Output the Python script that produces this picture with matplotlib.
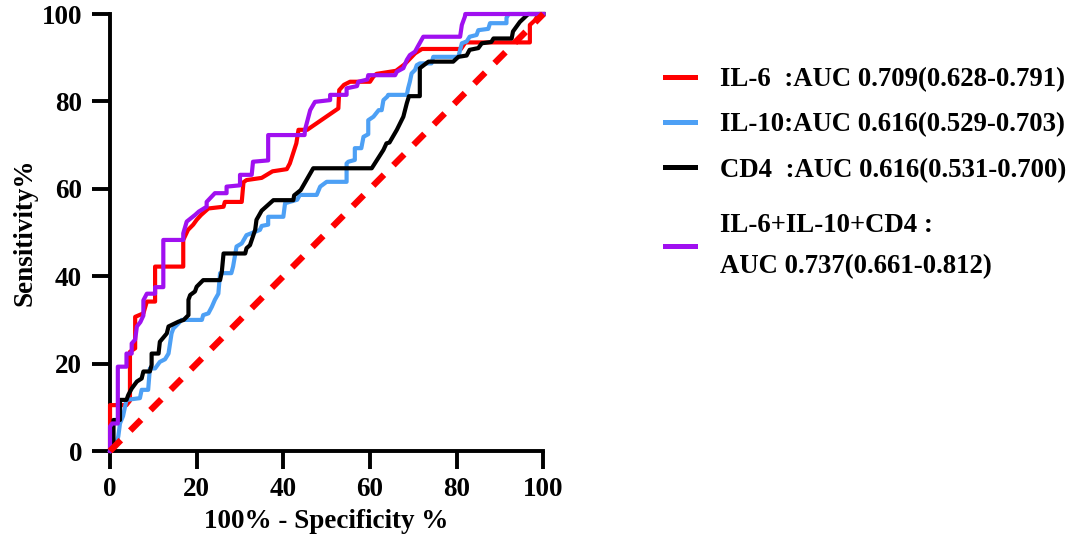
import matplotlib
matplotlib.use('Agg')
import matplotlib.pyplot as plt

plt.rcParams['font.family'] = ['Liberation Serif', 'DejaVu Serif']
plt.rcParams['font.weight'] = 'bold'

# ROC curves: (100% - specificity, sensitivity)
il6_x = [0, 0, 3.8, 4.6, 4.6, 5.8, 5.8, 7.7, 8.5, 10.4, 10.4, 16.9, 16.9, 18, 19.2, 20, 21,
         22.7, 26.2, 26.5, 30.4, 30.8, 31.5, 35, 37.5, 40.8, 41.5, 43, 43.5, 45.5, 52.7, 52.9,
         54, 55.4, 60, 60.8, 61.5, 66, 68, 70.4, 72, 81, 82, 96.9, 96.9, 98, 99, 100]
il6_y = [0, 10.5, 10.5, 11.5, 22.7, 23.5, 30.7, 31.5, 34.2, 34.2, 42.2, 42.2, 48.3, 50.6, 51.8,
         52.9, 54, 55.5, 55.9, 57, 57, 61.5, 62, 62.5, 64, 64.5, 65.8, 70.4, 73.5, 73.5, 78.4,
         82.6, 83.8, 84.5, 84.5, 85.7, 86.3, 87, 88.5, 91, 92, 92, 93.5, 93.5, 97.5, 98.5, 100, 100]

il10_x = [0, 0.8, 1.2, 1.9, 2.3, 3, 3.8, 6.9, 7.3, 8.8, 9.2, 10.4, 11.5, 12.7, 13.5, 14.2, 14.6,
          15.8, 16.5, 21.2, 21.5, 22.7, 23.5, 24.2, 25, 25.4, 28, 28.4, 29.2, 30.4, 31.5, 34.6,
          35, 36.5, 36.5, 40, 40.4, 43.2, 43.8, 47.7, 48.5, 50, 54.6, 54.6, 55, 56.5, 56.5, 58,
          58.5, 59.6, 59.6, 60.8, 62, 62.7, 63.1, 64, 64.2, 68.5, 68.8, 69.2, 69.6, 70.4, 70.8,
          71.5, 74.2, 74.6, 80.4, 80.8, 81.2, 82.3, 83, 84.6, 85, 87.3, 87.7, 91.5, 91.5, 92, 100]
il10_y = [0, 1, 1, 3.3, 6.3, 8, 11.7, 12.1, 14, 14, 18.9, 18.9, 20.4, 21, 22.3, 26.9, 28, 29.2,
          30, 30, 31.1, 31.5, 33, 34.6, 36, 40.7, 40.7, 42.2, 46.8, 47.5, 49.4, 50.6, 51.5, 51.8,
          53.6, 53.6, 56.7, 57.5, 58.6, 58.6, 60.5, 61.6, 61.6, 65.8, 66.2, 66.6, 69.3, 69.3,
          71.9, 72.5, 75.7, 76.5, 78, 78, 80.3, 81.1, 81.5, 81.5, 83, 84.5, 86.4, 87.2, 88.3,
          88.7, 88.7, 90.2, 90.2, 91.8, 93.3, 93.7, 94.8, 95.2, 96.3, 96.6, 97.9, 97.9, 99.1, 100, 100]

cd4_x = [0, 0.8, 0.8, 2.3, 2.3, 3.8, 4.2, 5, 6.2, 7.3, 7.7, 9.2, 9.6, 9.6, 11.2, 11.5, 13.1,
         13.5, 15.8, 17, 18.1, 18.1, 18.5, 19.6, 20, 21.5, 25.4, 25.8, 26.2, 31.2, 31.5, 32.3,
         33.5, 33.8, 35, 37.7, 42.3, 42.5, 44, 46.9, 60.4, 63.1, 63.8, 64.5, 66.2, 67.7, 68.5,
         69, 71.5, 71.5, 73.5, 79.2, 80.4, 82.3, 83, 85, 85.8, 88, 88.5, 92.7, 93, 94.6, 96.2,
         96.4, 100]
cd4_y = [0, 0.5, 7.1, 7.1, 11.7, 11.7, 12.8, 14.3, 15.9, 16.6, 18.2, 18.2, 19.7, 22.3, 22.3,
         25, 26.9, 28.5, 29.6, 30, 31.1, 34.6, 35.7, 36.5, 37.6, 39.1, 39.1, 41, 45.2, 45.2,
         46.4, 47.1, 50.6, 52.9, 55, 57.4, 57.4, 58.5, 59.7, 64.7, 64.7, 68.9, 70.4, 70.6, 73.5,
         76.5, 79.6, 81.2, 81.2, 87.6, 89.1, 89.1, 90.2, 90.5, 91.8, 92.2, 93.3, 93.6, 94.4,
         94.4, 96, 98.2, 99.7, 100, 100]

comb_x = [0, 0, 0.5, 1.8, 1.8, 3.8, 3.8, 5, 5, 5.8, 6.2, 7, 7.7, 7.7, 8.5, 10.4, 10.4, 12.3,
          12.3, 16.9, 16.9, 17.7, 19.6, 20.5, 22.3, 22.3, 24.2, 26.9, 26.9, 30, 30, 32.7, 33,
          36.5, 36.5, 44.9, 45, 46.2, 47.3, 50.8, 50.8, 54.6, 54.6, 57, 57.3, 59.4, 59.6, 65.8,
          66.2, 67.7, 68.5, 69.2, 70.4, 71, 72.3, 80.8, 81.2, 81.9, 82, 100]
comb_y = [0, 5.6, 6.3, 6.3, 19.3, 19.3, 22.3, 22.3, 24.6, 25.5, 28.5, 29.5, 31, 34.5, 36, 36,
          37.5, 37.5, 48.3, 48.3, 49.8, 52.5, 54, 54.8, 55.9, 57, 59, 59, 60.5, 60.8, 63.2, 63.2,
          66.2, 66.5, 72.3, 72.3, 73.5, 78, 79.9, 80.3, 81.5, 81.5, 83, 83.5, 84.5, 85, 86, 86,
          86.8, 87.6, 89.5, 90.6, 91.4, 92.5, 94.8, 94.8, 97.5, 99.4, 100, 100]

labels = ['IL-6  :AUC 0.709(0.628-0.791)',
          'IL-10:AUC 0.616(0.529-0.703)',
          'CD4  :AUC 0.616(0.531-0.700)',
          'IL-6+IL-10+CD4 :\nAUC 0.737(0.661-0.812)']

fig = plt.figure(figsize=(10.84, 5.43), dpi=100)
ax = fig.add_axes([0.1015, 0.1694, 0.3997, 0.8048])

l1, = ax.plot(il6_x, il6_y, color='#FF0000', lw=3, zorder=3, clip_on=False)
l2, = ax.plot(il10_x, il10_y, color='#4DA0F5', lw=3, zorder=4, clip_on=False)
l3, = ax.plot(cd4_x, cd4_y, color='black', lw=3, zorder=5, clip_on=False)
l4, = ax.plot(comb_x, comb_y, color='#A010F0', lw=3, zorder=6, clip_on=False)
ax.plot([0, 100], [0, 100], color='#FF0000', lw=4.6, ls=(0, (2.4, 2.1)), zorder=7, clip_on=False)

ax.set_xlim(0, 100)
ax.set_ylim(0, 100)
ax.set_xticks([0, 20, 40, 60, 80, 100])
ax.set_yticks([0, 20, 40, 60, 80, 100])
for s in ['top', 'right']:
    ax.spines[s].set_visible(False)
for s in ['left', 'bottom']:
    ax.spines[s].set_linewidth(2.8)
ax.tick_params(axis='both', length=13, width=2.8, labelsize=19.5)
ax.tick_params(axis='y', pad=7)
ax.tick_params(axis='x', pad=6)

ax.set_xlabel('100% - Specificity %', fontsize=19.5, fontweight='bold', labelpad=5)
ax.set_ylabel('Sensitivity%', fontsize=19.5, fontweight='bold', labelpad=3)

# legend: three single-line entries, then the two-line combined entry a bit lower
leg_opts = dict(loc='upper left', bbox_transform=fig.transFigure, frameon=False, fontsize=19.3,
                handlelength=1.12, handletextpad=0.92, labelspacing=0.76, borderpad=0,
                borderaxespad=0)
leg1 = ax.legend([l1, l2, l3], labels[:3], bbox_to_anchor=(0.6133, 0.8766), **leg_opts)
ax.add_artist(leg1)
leg2 = ax.legend([l4], labels[3:], bbox_to_anchor=(0.6133, 0.6077), **leg_opts)
for t in leg2.get_texts():
    t.set_linespacing(1.83)
for lg in (leg1, leg2):
    for h in lg.get_lines():
        h.set_linewidth(3.6)

fig.savefig('out.png', dpi=100)
